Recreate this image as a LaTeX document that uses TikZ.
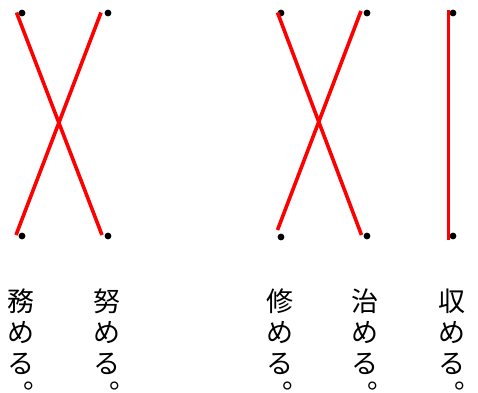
\documentclass[tikz,border=0pt]{standalone}
\usepackage{fontspec}
\newfontfamily\jpfont{Noto Sans CJK JP}
\tikzset{
  redline/.style={draw=red, line width=3.6pt},
  dotpt/.style={circle, fill=black, inner sep=0pt, minimum size=6.8pt},
  jch/.style={font=\jpfont\fontsize{27}{27}\selectfont, inner sep=0pt, anchor=base},
  jmaru/.style={font=\jpfont\fontsize{27}{27}\selectfont, inner sep=0pt, anchor=base west}
}
\begin{document}
\begin{tikzpicture}[x=1pt,y=-1pt]
\useasboundingbox (0,0) rectangle (478,392);
% dots
\node[dotpt] (d1) at (22,13) {};
\node[dotpt] (d2) at (108,13) {};
\node[dotpt] (d3) at (22,236) {};
\node[dotpt] (d4) at (108,236) {};
\node[dotpt] (d5) at (281,13) {};
\node[dotpt] (d6) at (367,13) {};
\node[dotpt] (d7) at (281,237) {};
\node[dotpt] (d8) at (367,236) {};
\node[dotpt] (d9) at (453,13) {};
\node[dotpt] (d10) at (453,236) {};
% line ends
\coordinate (a1) at (16.5,12.5);
\coordinate (a2) at (102,235);
\coordinate (b1) at (101,12.5);
\coordinate (b2) at (16,235);
\coordinate (c1) at (277.5,12.5);
\coordinate (c2) at (361.5,235);
\coordinate (e1) at (361,11);
\coordinate (e2) at (277.5,230);
\coordinate (f1) at (448.5,10);
\coordinate (f2) at (448.5,240);
\draw[redline] (a1) -- (a2);
\draw[redline] (b1) -- (b2);
\draw[redline] (c1) -- (c2);
\draw[redline] (e1) -- (e2);
\draw[redline] (f1) -- (f2);
% texts
\foreach \n/\x/\k in {t1/21/務, t2/107/努, t3/280/修, t4/365/治, t5/452/収}{
  \node[jch] (\n a) at (\x,311) {\k};
  \node[jch] (\n b) at (\x,342) {め};
  \node[jch] (\n c) at (\x,373) {る};
  \node[jmaru] (\n d) at (\x+2,388) {。};
}
\end{tikzpicture}
\end{document}
